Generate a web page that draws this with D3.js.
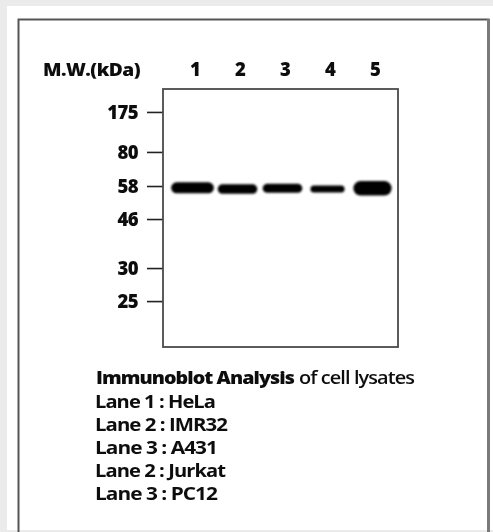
<!DOCTYPE html>
<html><head><meta charset="utf-8">
<script src="https://cdn.jsdelivr.net/npm/d3@7"></script>
<style>html,body{margin:0;padding:0;background:#ebebeb;}svg{display:block;}</style>
</head><body>
<script>
// ---- data ----
const lanes = ["1", "2", "3", "4", "5"];
const markerKDa = [175, 80, 58, 46, 30, 25];
const markerRf = [0.089, 0.244, 0.376, 0.504, 0.694, 0.822];   // relative migration
const bandRf = [0.383, 0.388, 0.385, 0.388, 0.385];
const bandIntensity = [11, 9.5, 9, 7, 14.5];                   // band thickness (signal)
const bandWidth = [0.95, 0.88, 0.88, 0.76, 0.85];               // fraction of lane
const legendTitleBold = "Immunoblot Analysis";
const legendTitleRest = "of cell lysates";
const legendLines = ["Lane 1 : HeLa", "Lane 2 : IMR32", "Lane 3 : A431", "Lane 2 : Jurkat", "Lane 3 : PC12"];

const W = 493, H = 532;
const svg = d3.select("body").append("svg").attr("width", W).attr("height", H);

const defs = svg.append("defs");
defs.append("filter").attr("id", "blur").attr("x", "-20%").attr("y", "-60%").attr("width", "140%").attr("height", "220%")
  .append("feGaussianBlur").attr("stdDeviation", 1.3);
defs.append("filter").attr("id", "soft")
  .append("feGaussianBlur").attr("stdDeviation", 0.55);

// panel
svg.append("rect").attr("x", 7).attr("y", 6).attr("width", W - 7).attr("height", H - 8).attr("fill", "#fff");
svg.append("path").attr("d", `M18.5,${H}V19.5H488.5V${H}`).attr("fill", "none")
  .attr("stroke", "#555").attr("stroke-width", 2).attr("filter", "url(#soft)");
svg.append("line").attr("x1", 488.5).attr("x2", 488.5).attr("y1", 19).attr("y2", H)
  .attr("stroke", "#7a7a7a").attr("stroke-width", 3);

// blot frame
const box = {x0: 163, x1: 398, y0: 89, y1: 347};
const y = d3.scaleLinear().domain([0, 1]).range([box.y0, box.y1]);
const x = d3.scaleBand().domain(lanes).range([170, 395]).padding(0);

const g = svg.append("g").attr("filter", "url(#soft)");
const font = "'Open Sans', 'Noto Sans', sans-serif";

// markers axis
const markerScale = d3.scaleOrdinal().domain(markerKDa).range(markerKDa.map((d, i) => y(markerRf[i])));
const axis = d3.axisLeft(markerScale).tickSize(16).tickPadding(9).tickFormat(d => d);
const ax = g.append("g").attr("transform", `translate(${box.x0},0)`).call(axis);
ax.select(".domain").remove();
ax.selectAll(".tick line").attr("stroke", "#222").attr("stroke-width", 1.6);
ax.selectAll(".tick text").attr("fill", "#111").attr("font-family", font)
  .attr("font-weight", 800).attr("font-size", 18.5).attr("letter-spacing", -0.6).attr("dy", "0.36em");

g.append("rect").attr("x", box.x0).attr("y", box.y0).attr("width", box.x1 - box.x0).attr("height", box.y1 - box.y0)
  .attr("fill", "#fff").attr("stroke", "#4a4a4a").attr("stroke-width", 1.8);

// header
g.append("text").attr("x", 43).attr("y", 76).text("M.W.(kDa)")
  .attr("font-family", font).attr("font-weight", 800).attr("letter-spacing", -0.5)
  .attr("font-size", 17.5).attr("textLength", 97).attr("lengthAdjust", "spacingAndGlyphs").attr("fill", "#111");
g.selectAll(".lane").data(lanes).enter().append("text")
  .attr("x", d => x(d) + x.bandwidth() / 2 + 3).attr("y", 76).attr("text-anchor", "middle")
  .attr("font-family", font).attr("font-weight", 800).attr("font-size", 18.5)
  .attr("fill", "#111").text(d => d);

// bands
const bands = svg.append("g").attr("filter", "url(#blur)");
bands.selectAll("rect").data(lanes).enter().append("rect")
  .attr("x", (d, i) => x(d) + x.bandwidth() * (1 - bandWidth[i]) / 2)
  .attr("width", (d, i) => x.bandwidth() * bandWidth[i])
  .attr("y", (d, i) => y(bandRf[i]) - bandIntensity[i] / 2)
  .attr("height", (d, i) => bandIntensity[i])
  .attr("rx", (d, i) => bandIntensity[i] / 2)
  .attr("fill", "#000");

// legend
const legWidths = [120, 132, 122, 130, 122];
const leg = svg.append("g").attr("filter", "url(#soft)")
  .attr("font-family", font).attr("fill", "#111").attr("font-size", 17).attr("letter-spacing", -0.8);
leg.append("text").attr("x", 96).attr("y", 384).attr("font-weight", 800)
  .attr("textLength", 198).attr("lengthAdjust", "spacingAndGlyphs").text(legendTitleBold);
leg.append("text").attr("x", 299).attr("y", 384).attr("font-weight", 600).attr("font-size", 17.5)
  .attr("textLength", 115).attr("lengthAdjust", "spacingAndGlyphs").text(legendTitleRest);
leg.selectAll(".ll").data(legendLines).enter().append("text")
  .attr("x", 95).attr("y", (d, i) => 408 + i * 23).attr("font-weight", 700)
  .attr("textLength", (d, i) => legWidths[i]).attr("lengthAdjust", "spacingAndGlyphs")
  .text(d => d);
</script>
</body></html>
